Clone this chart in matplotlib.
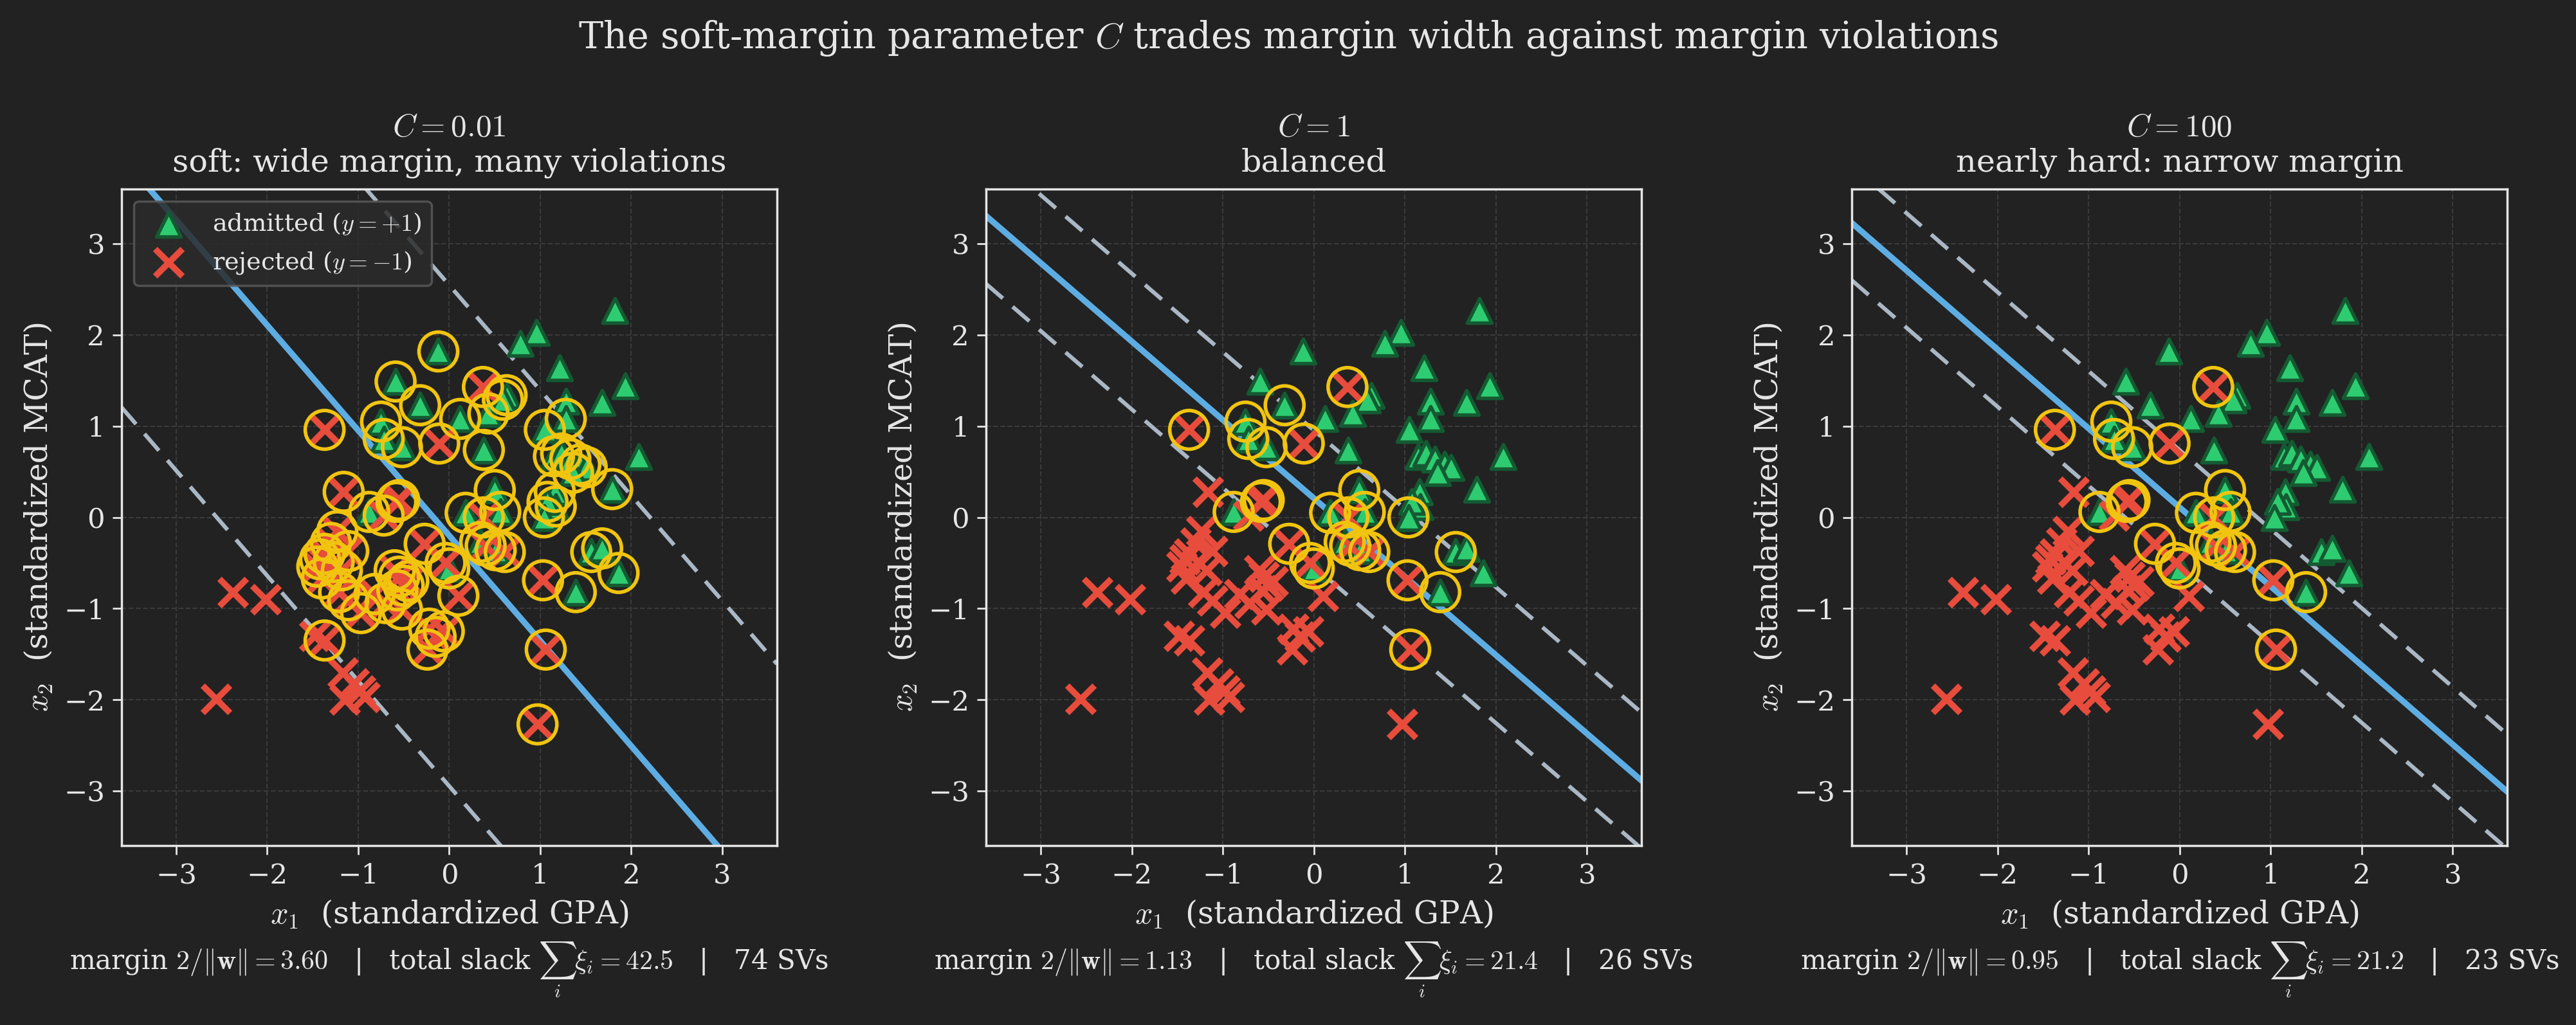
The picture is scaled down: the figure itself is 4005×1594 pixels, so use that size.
import numpy as np
import matplotlib
matplotlib.use("Agg")
import matplotlib.pyplot as plt

# ---- data ----
adm_x1 = [1.82, 0.96, 0.78, -0.12, 1.21, -0.59, 1.93, 0.63, 0.59, 1.28, 1.68, -0.32, 0.43, 0.12,
          1.28, -0.75, 1.05, -0.72, -0.52, 0.38, 2.08, 1.15, 1.23, 1.33, 1.44, 1.51, 1.36, 1.79,
          1.16, 0.50, 1.17, 1.08, 1.04, 0.18, 0.56, -0.88, 0.00, 0.34, 0.51, 1.56, 1.68, 1.86, 1.39]
adm_x2 = [2.27, 2.03, 1.91, 1.82, 1.64, 1.49, 1.44, 1.34, 1.29, 1.27, 1.26, 1.23, 1.14, 1.08,
          1.08, 1.05, 0.96, 0.86, 0.77, 0.74, 0.67, 0.67, 0.70, 0.64, 0.58, 0.55, 0.49, 0.31,
          0.28, 0.30, 0.12, 0.17, 0.00, 0.05, 0.06, 0.06, -0.56, -0.27, -0.36, -0.38, -0.34, -0.61, -0.82]

rej_x1 = [-1.37, 0.37, -0.11, -1.16, -0.58, -0.55, -0.72, -0.27, 0.38, 0.40, 0.61, -0.04, 0.10,
          1.03, 1.06, 0.97, -0.06, -2.38, -2.02, -2.56, -1.23, -1.11, -1.37, -1.45, -1.27, -1.40,
          -1.21, -1.11, -0.97, -0.82, -0.60, -0.55, -0.50, -0.57, -0.52, -0.22, -0.24, -1.48, -1.37,
          -1.17, -1.05, -0.93, -1.15, -0.98, -1.30, -1.42, -1.18, -0.45, -0.15, -0.70]
rej_x2 = [0.96, 1.43, 0.81, 0.28, 0.17, 0.19, 0.02, -0.29, 0.00, -0.31, -0.38, -0.50, -0.86,
          -0.69, -1.45, -2.27, -1.25, -0.82, -0.90, -1.99, -0.15, -0.37, -0.40, -0.54, -0.49, -0.67,
          -0.82, -0.91, -1.05, -0.84, -0.58, -0.65, -0.75, -0.80, -1.01, -1.22, -1.45, -1.30, -1.35,
          -1.70, -1.82, -1.97, -2.00, -1.90, -0.28, -0.46, -0.58, -0.70, -1.31, -0.94]

C_labels = ["0.01", "1", "100"]
subtitles = ["soft: wide margin, many violations", "balanced", "nearly hard: narrow margin"]
w1 = [0.420, 1.154, 1.378]
w2 = [0.364, 1.342, 1.591]
b = [0.073, -0.282, -0.175]
margins = [3.60, 1.13, 0.95]
slacks = [42.5, 21.4, 21.2]
n_sv = [74, 26, 23]

# ---- style ----
BG = "#222222"
FG = "#e6e6e6"
plt.rcParams.update({
    "font.family": ["DejaVu Serif"],
    "mathtext.fontset": "cm",
    "figure.facecolor": BG,
    "axes.facecolor": BG,
    "savefig.facecolor": BG,
    "text.color": FG,
    "axes.labelcolor": FG,
    "xtick.color": FG,
    "ytick.color": FG,
    "axes.edgecolor": FG,
})

X = np.column_stack([adm_x1 + rej_x1, adm_x2 + rej_x2])
y = np.array([1] * len(adm_x1) + [-1] * len(rej_x1))

fig = plt.figure(figsize=(16.02, 6.376), dpi=250)
lefts = [0.0472, 0.3828, 0.7189]
lim = 3.6
xs = np.array([-lim, lim])

for i in range(3):
    ax = fig.add_axes([lefts[i], 0.175, 0.2544, 0.6405])
    ax.grid(True, color="#3a3a3a", linestyle="--", linewidth=0.6)
    ax.set_axisbelow(True)

    # decision boundary and margins
    for off, ls, col, lw in [(0, "-", "#5dade2", 2.7), (1, (0, (5.5, 3.2)), "#aab7c4", 1.8),
                             (-1, (0, (5.5, 3.2)), "#aab7c4", 1.8)]:
        ax.plot(xs, (off - b[i] - w1[i] * xs) / w2[i], color=col, linestyle=ls, lw=lw, zorder=2)

    ax.scatter(adm_x1, adm_x2, marker="^", s=120, c="#2ecc71", edgecolors="#145a32",
               linewidths=1.6, zorder=3, label="admitted ($y=+1$)")
    ax.scatter(rej_x1, rej_x2, marker="x", s=150, c="#e74c3c", linewidths=2.8,
               zorder=3, label="rejected ($y=-1$)")

    # support vectors: on or inside the margin (small tolerance in distance units)
    wn = np.hypot(w1[i], w2[i])
    f = X @ np.array([w1[i], w2[i]]) + b[i]
    sv = y * f <= 1 + 0.015 * wn
    ax.scatter(X[sv, 0], X[sv, 1], marker="o", s=300, facecolors="none",
               edgecolors="#f1c40f", linewidths=1.6, zorder=4)

    ax.set_xlim(-lim, lim)
    ax.set_ylim(-lim, lim)
    ax.set_xticks(range(-3, 4))
    ax.set_yticks(range(-3, 4))
    ax.tick_params(labelsize=12.5, length=4)
    for s in ax.spines.values():
        s.set_color(FG)
        s.set_linewidth(1.0)
    ax.set_xlabel("$x_1$  (standardized GPA)", fontsize=14)
    ax.set_ylabel("$x_2$  (standardized MCAT)", fontsize=14)
    ax.set_title(f"$C = {C_labels[i]}$\n{subtitles[i]}", fontsize=14.2, pad=8, color=FG)

    if i == 0:
        leg = ax.legend(loc="upper left", fontsize=11, facecolor="#2b2b2b",
                        edgecolor="#5a5a5a", framealpha=0.85)
        for t in leg.get_texts():
            t.set_color(FG)

    cx = lefts[i] + 0.2544 / 2
    fig.text(cx, 0.054,
             rf"margin $2/\|\mathbf{{w}}\| = {margins[i]:.2f}$   |   total slack "
             rf"$\sum_i \xi_i = {slacks[i]:.1f}$   |   {n_sv[i]} SVs",
             ha="center", va="center", fontsize=12.1, color=FG)

fig.suptitle("The soft-margin parameter $C$ trades margin width against margin violations",
             fontsize=16.5, y=0.982, color=FG)

fig.savefig("out.png", dpi=250)
